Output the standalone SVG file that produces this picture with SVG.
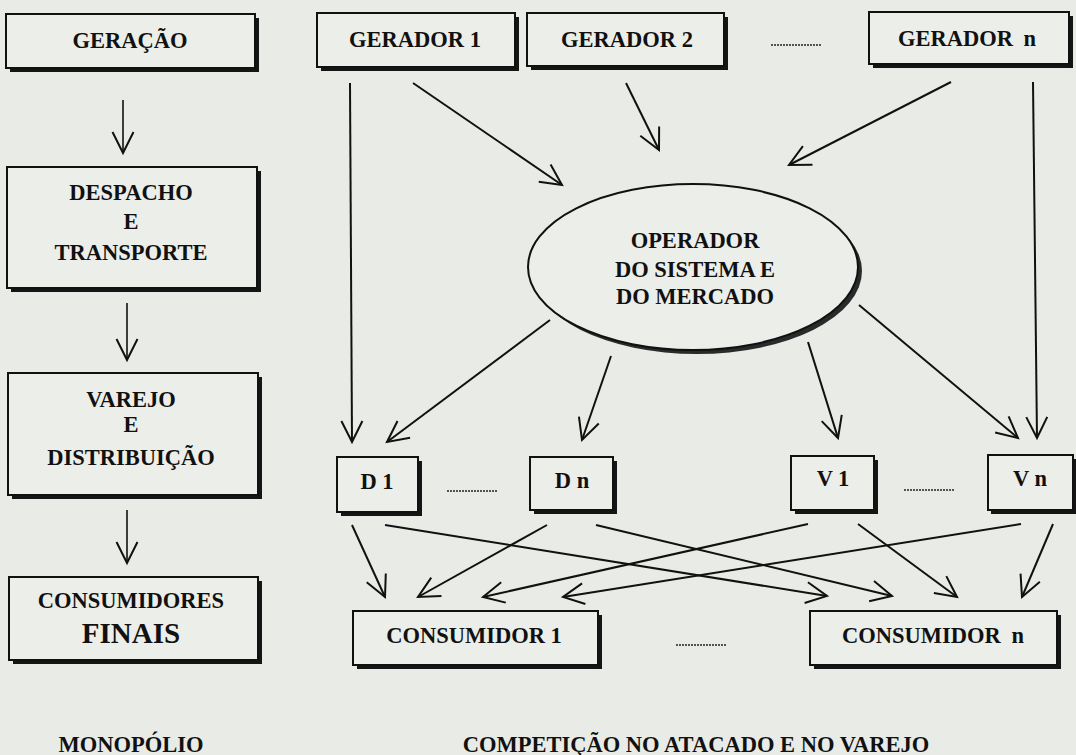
<svg xmlns="http://www.w3.org/2000/svg" width="1076" height="755" viewBox="0 0 1076 755">
<defs>
<style>
.bg{fill:#e9ece6}
.box{fill:#eceee9;stroke:#111;stroke-width:2}
.sh{fill:#151515}
.t{font-family:"Liberation Serif","Times New Roman",serif;font-weight:bold;font-size:22.5px;fill:#111;text-anchor:middle}
.big{font-size:29px}
.ln{fill:none;stroke:#111;stroke-width:2;marker-end:url(#ah)}
.thin{stroke-width:1.6}
.dots{stroke:#222;stroke-width:1.6;stroke-dasharray:2 1}
</style>
<marker id="ah" markerUnits="userSpaceOnUse" markerWidth="26" markerHeight="26" viewBox="0 0 26 26" refX="23" refY="13" orient="auto">
<path d="M2,2.5 L23,13 L2,23.5" fill="none" stroke="#111" stroke-width="2" stroke-linejoin="miter"/>
</marker>
</defs>
<rect class="bg" x="0" y="0" width="1076" height="755"/>

<g id="geracao"><rect class="sh" x="10" y="18" width="249" height="54"/><rect class="box" x="6" y="14" width="249" height="54"/><text class="t" x="130" y="48">GERAÇÃO</text></g>
<g id="despacho"><rect class="sh" x="11" y="171" width="250" height="121"/><rect class="box" x="7" y="167" width="250" height="121"/><text class="t" x="131" y="200">DESPACHO</text><text class="t" x="131" y="229">E</text><text class="t" x="131" y="260">TRANSPORTE</text></g>
<g id="varejo"><rect class="sh" x="12" y="377" width="250" height="122"/><rect class="box" x="8" y="373" width="250" height="122"/><text class="t" x="131" y="407">VAREJO</text><text class="t" x="131" y="432">E</text><text class="t" x="131" y="465">DISTRIBUIÇÃO</text></g>
<g id="consumidores"><rect class="sh" x="13" y="581" width="249" height="83"/><rect class="box" x="9" y="577" width="249" height="83"/><text class="t" x="131" y="608">CONSUMIDORES</text><text class="t big" x="131" y="643">FINAIS</text></g>
<g id="monopolio"><text class="t" x="131" y="752">MONOPÓLIO</text></g>

<g id="gerador1"><rect class="sh" x="321" y="17" width="198" height="54"/><rect class="box" x="317" y="13" width="198" height="54"/><text class="t" x="415" y="47">GERADOR 1</text></g>
<g id="gerador2"><rect class="sh" x="531" y="17" width="197" height="53"/><rect class="box" x="527" y="13" width="197" height="53"/><text class="t" x="627" y="47">GERADOR 2</text></g>
<g id="dots-g"><line class="dots" x1="771" y1="45" x2="821" y2="45"/></g>
<g id="geradorn"><rect class="sh" x="873" y="16" width="200" height="52"/><rect class="box" x="869" y="12" width="200" height="52"/><text class="t" x="967" y="46" word-spacing="5">GERADOR n</text></g>

<g id="operador"><ellipse cx="697" cy="271" rx="165" ry="83" fill="#2a2a2a"/><ellipse cx="693" cy="267" rx="165" ry="83" fill="#eceee9" stroke="#111" stroke-width="2"/><text class="t" x="695" y="248">OPERADOR</text><text class="t" x="695" y="277">DO SISTEMA E</text><text class="t" x="695" y="304">DO MERCADO</text></g>

<g id="d1"><rect class="sh" x="341" y="461" width="81" height="55"/><rect class="box" x="337" y="457" width="81" height="55"/><text class="t" x="377" y="489">D 1</text></g>
<g id="dots-d"><line class="dots" x1="447" y1="491" x2="497" y2="491"/></g>
<g id="dn"><rect class="sh" x="534" y="461" width="83" height="53"/><rect class="box" x="530" y="457" width="83" height="53"/><text class="t" x="572" y="488">D n</text></g>
<g id="v1"><rect class="sh" x="795" y="460" width="83" height="54"/><rect class="box" x="791" y="456" width="83" height="54"/><text class="t" x="833" y="486">V 1</text></g>
<g id="dots-v"><line class="dots" x1="904" y1="490" x2="954" y2="490"/></g>
<g id="vn"><rect class="sh" x="991" y="459" width="85" height="55"/><rect class="box" x="988" y="455" width="85" height="55"/><text class="t" x="1030" y="486">V n</text></g>

<g id="consumidor1"><rect class="sh" x="357" y="615" width="245" height="54"/><rect class="box" x="353" y="611" width="245" height="54"/><text class="t" x="474" y="643">CONSUMIDOR 1</text></g>
<g id="dots-c"><line class="dots" x1="676" y1="645" x2="726" y2="645"/></g>
<g id="consumidorn"><rect class="sh" x="814" y="615" width="247" height="54"/><rect class="box" x="810" y="611" width="247" height="54"/><text class="t" x="933" y="643" word-spacing="5">CONSUMIDOR n</text></g>
<g id="competicao"><text class="t" x="696" y="752">COMPETIÇÃO NO ATACADO E NO VAREJO</text></g>

<g id="connectors">
<line class="ln thin" x1="123" y1="100" x2="123" y2="153"/>
<line class="ln thin" x1="127" y1="303" x2="127" y2="360"/>
<line class="ln thin" x1="127" y1="510" x2="127" y2="563"/>
<line class="ln" x1="350" y1="83" x2="352" y2="442"/>
<line class="ln" x1="413" y1="83" x2="562" y2="185"/>
<line class="ln" x1="626" y1="83" x2="659" y2="150"/>
<line class="ln" x1="951" y1="82" x2="789" y2="165"/>
<line class="ln" x1="1033" y1="82" x2="1037" y2="438"/>
<line class="ln" x1="550" y1="320" x2="387" y2="442"/>
<line class="ln" x1="611" y1="356" x2="582" y2="440"/>
<line class="ln" x1="808" y1="342" x2="838" y2="438"/>
<line class="ln" x1="859" y1="305" x2="1018" y2="438"/>
<line class="ln" x1="352" y1="525" x2="385" y2="597"/>
<line class="ln" x1="385" y1="525" x2="827" y2="596"/>
<line class="ln" x1="547" y1="525" x2="418" y2="597"/>
<line class="ln" x1="596" y1="525" x2="892" y2="596"/>
<line class="ln" x1="808" y1="524" x2="483" y2="597"/>
<line class="ln" x1="858" y1="524" x2="957" y2="597"/>
<line class="ln" x1="1021" y1="524" x2="563" y2="597"/>
<line class="ln" x1="1053" y1="524" x2="1022" y2="597"/>
</g>
</svg>
